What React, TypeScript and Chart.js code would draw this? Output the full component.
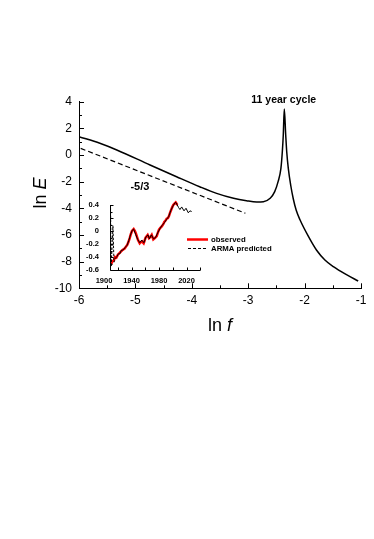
import React, { useEffect, useRef } from "react";
import { Chart, registerables } from "chart.js";
Chart.register(...registerables);

const FONT = '"Liberation Sans", Arial, Helvetica, sans-serif';

// ---- main spectrum (ln f, ln E) ----
const lnF = [-6.0, -5.63, -5.33, -4.74, -4.27, -3.86, -3.56, -3.26, -3.03, -2.85, -2.73, -2.61, -2.53, -2.47, -2.42, -2.395, -2.378, -2.36, -2.335, -2.317, -2.289, -2.247, -2.2, -2.15, -2.08, -1.93, -1.79, -1.64, -1.49, -1.25, -1.05];
const lnE = [1.38, 0.88, 0.38, -0.75, -1.63, -2.38, -2.88, -3.25, -3.43, -3.52, -3.5, -3.25, -2.75, -2.0, -1.0, 0.25, 1.5, 3.45, 1.5, 0.25, -1.0, -2.25, -3.3, -4.13, -4.88, -6.13, -7.13, -7.88, -8.38, -9.0, -9.45];

// -5/3 reference slope line
const slopeF = [-5.97, -3.05];
const slopeE = [0.5, -4.37];

const mainXRange = [-6, -1];
const mainYRange = [-10, 4];

// ---- inset: observed vs ARMA predicted ----
const obsYear = [1910.6, 1912, 1914.5, 1916, 1918, 1920.4, 1922.5, 1925.2, 1927, 1930, 1932, 1934, 1935.5, 1937.4, 1939, 1940.7, 1943.2, 1945, 1946.5, 1949.5, 1951.9, 1953.5, 1955.3, 1957.7, 1959, 1960.5, 1962, 1963.5, 1965.5, 1967.5, 1969.4, 1971.7, 1974, 1976.7, 1978.5, 1980, 1982, 1984, 1986, 1987.7, 1989.5, 1991.2, 1993, 1994.5, 1996, 1997.5, 1999, 2000.8, 2002.5, 2004.3, 2005.5, 2006.6];
const obsVal = [-0.51, -0.47, -0.45, -0.4, -0.41, -0.36, -0.34, -0.31, -0.29, -0.27, -0.24, -0.21, -0.17, -0.11, -0.05, 0.0, 0.03, 0.0, -0.04, -0.14, -0.19, -0.17, -0.16, -0.19, -0.15, -0.1, -0.08, -0.06, -0.11, -0.09, -0.06, -0.13, -0.11, -0.08, -0.02, 0.02, 0.05, 0.07, 0.1, 0.14, 0.16, 0.19, 0.2, 0.23, 0.28, 0.32, 0.36, 0.4, 0.42, 0.44, 0.42, 0.4];

const armaYear = [1909.5, 1910.5, 1913, 1914.5, 1916.5, 1919, 1921, 1923, 1925, 1928, 1931, 1933.5, 1936, 1938.5, 1941, 1943, 1946, 1949, 1952, 1955, 1958, 1961, 1964, 1966, 1969, 1972, 1975, 1978, 1981, 1984, 1988, 1991, 1994, 1997, 2000, 2003, 2004.5, 2006.6, 2008.5, 2010.5, 2013, 2016.4, 2019.3, 2022.6, 2025, 2027.5];
const armaVal = [0.36, -0.55, 0.08, -0.48, -0.42, -0.39, -0.35, -0.35, -0.3, -0.29, -0.25, -0.22, -0.15, -0.06, 0.01, 0.03, -0.05, -0.13, -0.18, -0.14, -0.18, -0.09, -0.06, -0.12, -0.06, -0.12, -0.1, -0.03, 0.03, 0.08, 0.13, 0.18, 0.22, 0.31, 0.38, 0.43, 0.44, 0.4, 0.36, 0.33, 0.37, 0.31, 0.35, 0.28, 0.31, 0.3];

const insetXRange = [1900, 2040];
const insetAxisStartYear = 1908;
const insetXLabels = [1900, 1940, 1980, 2020];
const insetYRange = [-0.6, 0.4];

const legendLabels = ["observed", "ARMA predicted"];

function line(ctx: CanvasRenderingContext2D, x1: number, y1: number, x2: number, y2: number) {
  ctx.beginPath();
  ctx.moveTo(x1, y1);
  ctx.lineTo(x2, y2);
  ctx.stroke();
}

export default function App() {
  const mainRef = useRef<HTMLCanvasElement>(null);
  const insetRef = useRef<HTMLCanvasElement>(null);

  useEffect(() => {
    const mainPlugin = {
      id: "mainDecor",
      afterDraw(chart: any) {
        const ctx: CanvasRenderingContext2D = chart.ctx;
        const xs = chart.scales.x;
        const ys = chart.scales.y;
        const ca = chart.chartArea;
        ctx.save();
        ctx.strokeStyle = "#000";
        ctx.lineWidth = 1;
        // inward ticks on y
        for (let v = mainYRange[0]; v <= mainYRange[1]; v += 1) {
          const y = Math.round(ys.getPixelForValue(v)) + 0.5;
          const len = v % 2 === 0 ? 5 : 3;
          line(ctx, ca.left, y, ca.left + len, y);
        }
        // inward ticks on x
        for (let v = mainXRange[0]; v <= mainXRange[1] + 1e-9; v += 0.5) {
          const x = Math.round(xs.getPixelForValue(v)) + 0.5;
          const len = Math.abs(v - Math.round(v)) < 1e-9 ? 5 : 3;
          line(ctx, x, ca.bottom, x, ca.bottom - len);
        }
        ctx.fillStyle = "#000";
        // annotations
        ctx.font = `bold 10.5px ${FONT}`;
        ctx.textAlign = "center";
        ctx.textBaseline = "alphabetic";
        ctx.fillText("11 year cycle", xs.getPixelForValue(-2.37), ys.getPixelForValue(3.9));
        ctx.font = `bold 11px ${FONT}`;
        ctx.fillText("-5/3", xs.getPixelForValue(-4.92), ys.getPixelForValue(-2.63));

        const drawMixed = (cx: number, cy: number, a: string, b: string) => {
          ctx.font = `18px ${FONT}`;
          const wa = ctx.measureText(a).width;
          ctx.font = `italic 18px ${FONT}`;
          const wb = ctx.measureText(b).width;
          const start = cx - (wa + wb) / 2;
          ctx.textAlign = "left";
          ctx.font = `18px ${FONT}`;
          ctx.fillText(a, start, cy);
          ctx.font = `italic 18px ${FONT}`;
          ctx.fillText(b, start + wa, cy);
        };
        drawMixed((ca.left + ca.right) / 2, 331, "ln ", "f");
        ctx.save();
        ctx.translate(46, 193);
        ctx.rotate(-Math.PI / 2);
        drawMixed(0, 0, "ln ", "E");
        ctx.restore();
        ctx.restore();
      },
    };

    const main = new Chart(mainRef.current!, {
      type: "scatter",
      data: {
        datasets: [
          {
            data: lnF.map((x, i) => ({ x, y: lnE[i] })),
            showLine: true,
            borderColor: "#000",
            borderWidth: 1.5,
            pointRadius: 0,
            cubicInterpolationMode: "monotone",
          } as any,
          {
            data: slopeF.map((x, i) => ({ x, y: slopeE[i] })),
            showLine: true,
            borderColor: "#000",
            borderWidth: 1.2,
            borderDash: [5, 3],
            pointRadius: 0,
          },
        ],
      },
      options: {
        responsive: false,
        animation: false,
        devicePixelRatio: 1,
        events: [],
        layout: { padding: { left: 0, top: 101.7, right: 13, bottom: 210.7 } },
        plugins: { legend: { display: false }, tooltip: { enabled: false } },
        scales: {
          x: {
            type: "linear",
            min: mainXRange[0],
            max: mainXRange[1],
            grid: { display: false, drawTicks: false },
            border: { display: true, color: "#000", width: 1 },
            ticks: { stepSize: 1, color: "#000", font: { family: FONT, size: 12 }, padding: 5 },
            afterFit: (s: any) => { s.height = 40; },
          },
          y: {
            type: "linear",
            min: mainYRange[0],
            max: mainYRange[1],
            grid: { display: false, drawTicks: false },
            border: { display: true, color: "#000", width: 1 },
            ticks: { stepSize: 2, color: "#000", font: { family: FONT, size: 12 }, padding: 7 },
            afterFit: (s: any) => { s.width = 79; },
          },
        },
      },
      plugins: [mainPlugin],
    } as any);

    const insetPlugin = {
      id: "insetDecor",
      afterDraw(chart: any) {
        const ctx: CanvasRenderingContext2D = chart.ctx;
        const xs = chart.scales.x;
        const ys = chart.scales.y;
        ctx.save();
        ctx.strokeStyle = "#000";
        ctx.lineWidth = 1;
        const x0 = Math.round(xs.getPixelForValue(insetAxisStartYear)) + 0.5;
        const xEnd = xs.getPixelForValue(insetXRange[1]);
        const yBot = Math.round(ys.getPixelForValue(insetYRange[0])) + 0.5;
        const yTop = ys.getPixelForValue(insetYRange[1]);
        line(ctx, x0, yTop, x0, yBot);
        line(ctx, x0, yBot, xEnd, yBot);
        for (let k = 0; k <= 10; k++) {
          const v = insetYRange[0] + k * 0.1;
          const y = Math.round(ys.getPixelForValue(v)) + 0.5;
          line(ctx, x0, y, x0 + (k % 2 === 0 ? 3 : 2), y);
        }
        for (let yr = 1920; yr <= insetXRange[1]; yr += 20) {
          const x = Math.round(xs.getPixelForValue(yr)) + 0.5;
          line(ctx, x, yBot, x, yBot - 3);
        }
        // legend
        ctx.font = `bold 7.8px ${FONT}`;
        ctx.textAlign = "left";
        ctx.textBaseline = "middle";
        ctx.fillStyle = "#000";
        ctx.strokeStyle = "#ff0000";
        ctx.lineWidth = 2.5;
        line(ctx, 187, 239.5, 208, 239.5);
        ctx.fillText(legendLabels[0], 211, 239.5);
        ctx.strokeStyle = "#000";
        ctx.lineWidth = 1;
        ctx.setLineDash([3, 2]);
        line(ctx, 188, 248.5, 208, 248.5);
        ctx.setLineDash([]);
        ctx.fillText(legendLabels[1], 211, 248.5);
        ctx.restore();
      },
    };

    const inset = new Chart(insetRef.current!, {
      type: "scatter",
      data: {
        datasets: [
          {
            data: armaYear.map((x, i) => ({ x, y: armaVal[i] })),
            showLine: true,
            borderColor: "#000",
            borderWidth: 1,
            pointRadius: 0,
            clip: false,
            segment: {
              borderDash: (c: any) => (c.p0.parsed.x < 1916 ? [2.5, 1.5] : undefined),
            },
          } as any,
          {
            data: obsYear.map((x, i) => ({ x, y: obsVal[i] })),
            showLine: true,
            borderColor: "#ff0000",
            borderWidth: 2.5,
            pointRadius: 0,
            clip: false,
          } as any,
        ],
      },
      options: {
        responsive: false,
        animation: false,
        devicePixelRatio: 1,
        events: [],
        layout: { padding: { left: 0, top: 205, right: 173.75, bottom: 249 } },
        plugins: { legend: { display: false }, tooltip: { enabled: false } },
        scales: {
          x: {
            type: "linear",
            min: insetXRange[0],
            max: insetXRange[1],
            grid: { display: false, drawTicks: false },
            border: { display: false },
            afterBuildTicks: (s: any) => {
              s.ticks = insetXLabels.map((v) => ({ value: v }));
            },
            ticks: {
              color: "#000",
              font: { family: FONT, size: 7.5, weight: "bold" },
              padding: 6,
              maxRotation: 0,
              autoSkip: false,
              callback: (v: number) => String(v),
            },
            afterFit: (s: any) => { s.height = 20; },
          },
          y: {
            type: "linear",
            min: insetYRange[0],
            max: insetYRange[1],
            grid: { display: false, drawTicks: false },
            border: { display: false },
            ticks: {
              stepSize: 0.2,
              color: "#000",
              font: { family: FONT, size: 7.5, weight: "bold" },
              padding: 5,
              autoSkip: false,
              callback: (v: number) => (Math.abs(v) < 1e-9 ? "0" : Number(v).toFixed(1)),
            },
            afterFit: (s: any) => { s.width = 104; },
          },
        },
      },
      plugins: [insetPlugin],
    } as any);

    return () => {
      main.destroy();
      inset.destroy();
    };
  }, []);

  return (
    <div style={{ position: "absolute", left: 0, top: 0, width: 374, height: 539, background: "#fff" }}>
      <canvas ref={mainRef} width={374} height={539} style={{ position: "absolute", left: 0, top: 0 }} />
      <canvas ref={insetRef} width={374} height={539} style={{ position: "absolute", left: 0, top: 0 }} />
    </div>
  );
}
